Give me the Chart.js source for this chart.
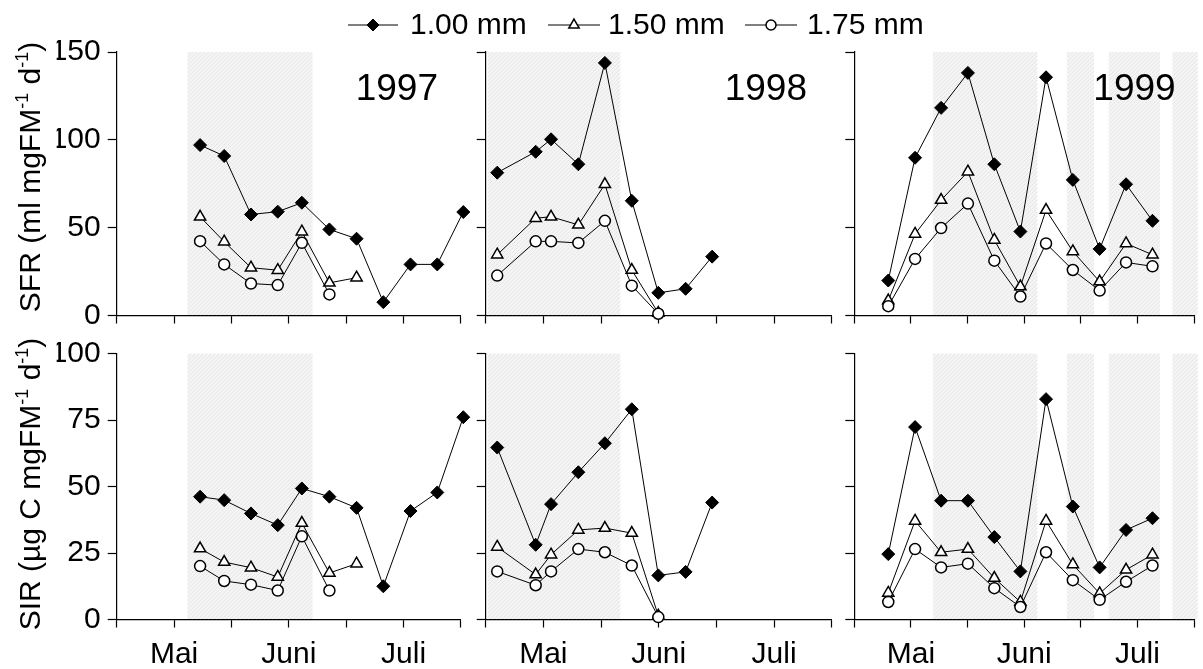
<!DOCTYPE html>
<html lang="de">
<head>
<meta charset="UTF-8" />
<title>SFR und SIR 1997–1999</title>
<script src="https://cdn.jsdelivr.net/npm/chart.js"></script>
<style>
  body { margin: 0; background: #fff; }
  #wrap { position: relative; width: 1203px; height: 669px; overflow: hidden; }
  #wrap canvas { position: absolute; left: 0; top: 0; }
</style>
</head>
<body>
<div id="wrap">
  <canvas id="sfr1997" width="1203" height="669"></canvas>
  <canvas id="sfr1998" width="1203" height="669"></canvas>
  <canvas id="sfr1999" width="1203" height="669"></canvas>
  <canvas id="sir1997" width="1203" height="669"></canvas>
  <canvas id="sir1998" width="1203" height="669"></canvas>
  <canvas id="sir1999" width="1203" height="669"></canvas>
</div>

<script>
  const FONT = '"Liberation Sans", Arial, sans-serif';
  const W = 1203, H = 669;

  // sampling dates in days after mid-April
  const days1997 = [21.8, 28.1, 35.1, 42.1, 48.4, 55.6, 62.7, 69.7, 76.8, 83.8, 90.6];
  const days1998 = [3.0, 13.0, 17.0, 24.1, 31.0, 38.0, 44.9, 52.0, 58.9];
  const days1999 = [9.0, 16.1, 23.0, 30.1, 37.1, 44.0, 50.8, 57.9, 65.0, 72.0, 79.0];

  // month names sit on the 1st of each month
  const monthLabels = { 15: 'Mai', 45: 'Juni', 75: 'Juli' };

  // SFR (ml mgFM-1 d-1) per mesh size
  const sfr1997_100 = [97.0, 90.8, 57.5, 59.1, 64.2, 49.0, 43.7, 7.6, 29.1, 29.1, 58.9];
  const sfr1997_150 = [56.2, 42.0, 27.2, 25.8, 47.7, 18.6, 21.5];
  const sfr1997_175 = [42.3, 29.1, 18.2, 17.3, 41.4, 12.0];

  const sfr1998_100 = [81.3, 93.2, 100.3, 86.1, 143.8, 65.3, 12.9, 15.2, 33.5];
  const sfr1998_150 = [34.6, 55.4, 56.2, 51.6, 74.7, 25.9, 1.4];
  const sfr1998_175 = [22.7, 42.2, 42.2, 41.3, 53.9, 17.0, 1.0];

  const sfr1999_100 = [19.9, 89.8, 118.2, 138.1, 86.1, 47.8, 135.6, 77.2, 37.9, 74.7, 53.9];
  const sfr1999_150 = [8.5, 46.4, 65.7, 81.9, 43.0, 16.5, 60.0, 36.5, 19.3, 41.0, 34.6];
  const sfr1999_175 = [5.3, 32.2, 49.8, 63.7, 31.2, 10.8, 41.0, 25.9, 14.2, 30.2, 28.0];

  // SIR (µg C mgFM-1 d-1) per mesh size
  const sir1997_100 = [46.2, 44.9, 39.9, 35.5, 49.3, 46.2, 42.0, 12.5, 40.8, 47.8, 76.1];
  const sir1997_150 = [26.7, 21.6, 19.5, 16.0, 36.3, 17.5, 21.0];
  const sir1997_175 = [20.1, 14.5, 13.1, 10.9, 31.3, 10.9];

  const sir1998_100 = [64.7, 28.1, 43.4, 55.4, 66.3, 79.1, 16.6, 17.9, 44.0];
  const sir1998_150 = [27.3, 16.9, 24.4, 33.7, 34.4, 32.5, 1.4];
  const sir1998_175 = [18.1, 12.9, 18.1, 26.5, 25.3, 20.3, 0.9];

  const sir1999_100 = [24.6, 72.4, 44.7, 44.7, 31.0, 18.1, 82.9, 42.5, 19.6, 33.7, 38.1];
  const sir1999_150 = [10.0, 37.1, 25.3, 26.5, 15.6, 6.6, 37.1, 20.7, 9.8, 18.7, 24.4];
  const sir1999_175 = [6.6, 26.5, 19.6, 21.0, 11.8, 4.7, 25.3, 14.8, 7.4, 14.2, 20.3];

  // shaded periods (days)
  const shade1997 = [[18.5, 51.2]];
  const shade1998 = [[0.5, 35.0]];
  const shade1999 = [[20.8, 48.5], [56.3, 63.5], [67.4, 81.0], [84.3, 91.0]];

  // plot boxes in page pixels
  const cols = [[116.7, 461], [485.7, 831.7], [854.3, 1200]];
  const rows = [[52, 315.5], [353.7, 619.5]];

  // fine dotted grey fill for the shaded periods
  function makeShadePattern() {
    const c = document.createElement('canvas');
    c.width = 4; c.height = 4;
    const g = c.getContext('2d');
    g.fillStyle = '#f4f4f4';
    g.fillRect(0, 0, 4, 4);
    g.fillStyle = '#e4e4e4';
    [[0, 0], [2, 2]].forEach(([x, y]) => g.fillRect(x, y, 1, 1));
    g.fillStyle = '#ebebeb';
    [[1, 3], [3, 1]].forEach(([x, y]) => g.fillRect(x, y, 1, 1));
    return g.createPattern(c, 'repeat');
  }
  const shadeFill = makeShadePattern();

  function drawRotatedTitle(ctx, parts, cx, cy, size) {
    ctx.save();
    ctx.translate(cx, cy);
    ctx.rotate(-Math.PI / 2);
    ctx.fillStyle = '#000';
    ctx.textBaseline = 'alphabetic';
    const supSize = Math.round(size * 0.6);
    let total = 0;
    parts.forEach(([t, sup]) => {
      ctx.font = (sup ? supSize : size) + 'px ' + FONT;
      total += ctx.measureText(t).width;
    });
    let x = -total / 2;
    parts.forEach(([t, sup]) => {
      ctx.font = (sup ? supSize : size) + 'px ' + FONT;
      ctx.fillText(t, x, sup ? -size * 0.4 : 0);
      x += ctx.measureText(t).width;
    });
    ctx.restore();
  }

  const markers = [
    { label: '1.00 mm', pointStyle: 'rectRot', radius: 6.5, fill: '#000', border: 1, order: 2 },
    { label: '1.50 mm', pointStyle: 'triangle', radius: 6.5, fill: '#fff', border: 1.5, order: 1 },
    { label: '1.75 mm', pointStyle: 'circle', radius: 5.5, fill: '#fff', border: 1.5, order: 0 }
  ];

  function drawLegend(ctx) {
    const items = [
      { x1: 348, x2: 398, tx: 410 },
      { x1: 548, x2: 600, tx: 608 },
      { x1: 745, x2: 797, tx: 807 }
    ];
    const y = 25;
    ctx.save();
    items.forEach((it, i) => {
      const m = markers[i];
      ctx.strokeStyle = '#000';
      ctx.lineWidth = 1;
      ctx.beginPath();
      ctx.moveTo(it.x1, y);
      ctx.lineTo(it.x2, y);
      ctx.stroke();
      ctx.fillStyle = m.fill;
      ctx.lineWidth = m.border;
      Chart.helpers.drawPoint(ctx, {
        pointStyle: m.pointStyle, radius: m.radius - 0.5, rotation: 0, borderWidth: m.border
      }, (it.x1 + it.x2) / 2, y);
      ctx.fillStyle = '#000';
      ctx.font = '30px ' + FONT;
      ctx.textBaseline = 'middle';
      ctx.textAlign = 'left';
      ctx.fillText(m.label, it.tx, y + 1);
    });
    ctx.restore();
  }

  const decor = {
    id: 'decor',
    beforeDraw(chart, args, opts) {
      const { ctx, chartArea, scales } = chart;
      ctx.save();
      ctx.fillStyle = shadeFill;
      (opts.shade || []).forEach(([a, b]) => {
        const x1 = scales.x.getPixelForValue(a);
        const x2 = scales.x.getPixelForValue(b);
        ctx.fillRect(x1, chartArea.top, x2 - x1, chartArea.bottom - chartArea.top);
      });
      ctx.restore();
    },
    afterDraw(chart, args, opts) {
      const { ctx, chartArea } = chart;
      if (opts.year) {
        ctx.save();
        ctx.fillStyle = '#000';
        ctx.font = '37px ' + FONT;
        ctx.textBaseline = 'alphabetic';
        ctx.textAlign = 'left';
        ctx.fillText(opts.year, chartArea.left + 239, 100);
        ctx.restore();
      }
      if (opts.title) {
        drawRotatedTitle(ctx, opts.title, 40, opts.titleY, 30);
      }
      if (opts.legend) drawLegend(ctx);
    }
  };

  function series(days, values, i) {
    const m = markers[i];
    return {
      label: m.label,
      data: values.map((v, k) => ({ x: days[k], y: v })),
      borderColor: '#000',
      borderWidth: 1,
      pointStyle: m.pointStyle,
      pointRadius: m.radius,
      pointBackgroundColor: m.fill,
      pointBorderColor: '#000',
      pointBorderWidth: m.border,
      tension: 0,
      clip: false,
      order: m.order
    };
  }

  function panel(id, col, row, days, sets, cfg) {
    const [left, right] = cols[col];
    const [top, bottom] = rows[row];
    const YW = 60;
    const XH = row === 1 ? 46 : 20;
    const yMax = row === 0 ? 150 : 100;
    const yStep = row === 0 ? 50 : 25;
    const tickFont = { family: FONT, size: 30 };

    return new Chart(document.getElementById(id), {
      type: 'line',
      data: { datasets: sets.map((vals, i) => series(days, vals, i)) },
      options: {
        responsive: false,
        animation: false,
        events: [],
        layout: {
          autoPadding: false,
          padding: { left: left - YW, top: top, right: W - right, bottom: H - bottom - XH }
        },
        plugins: {
          legend: { display: false },
          tooltip: { enabled: false },
          decor: cfg
        },
        scales: {
          x: {
            type: 'linear',
            min: 0,
            max: 90,
            afterFit: s => { s.height = XH; },
            ticks: {
              stepSize: 15,
              autoSkip: false,
              maxRotation: 0,
              minRotation: 0,
              padding: 9,
              color: '#000',
              font: tickFont,
              callback: v => (row === 1 ? (monthLabels[v] || '') : '')
            },
            grid: { drawOnChartArea: false, tickLength: 8, tickColor: '#000', tickWidth: 1.2 },
            border: { color: '#000', width: 1.2 }
          },
          y: {
            min: 0,
            max: yMax,
            afterFit: s => { s.width = YW; },
            ticks: {
              stepSize: yStep,
              padding: 7,
              color: '#000',
              font: tickFont,
              callback: v => (col === 0 ? String(v) : '')
            },
            grid: { drawOnChartArea: false, tickLength: 9, tickColor: '#000', tickWidth: 1.2 },
            border: { color: '#000', width: 1.2 }
          }
        }
      },
      plugins: [decor]
    });
  }

  const sfrTitle = [['SFR (ml mgFM', false], ['-1', true], [' d', false], ['-1', true], [')', false]];
  const sirTitle = [['SIR (µg C mgFM', false], ['-1', true], [' d', false], ['-1', true], [')', false]];

  panel('sfr1997', 0, 0, days1997, [sfr1997_100, sfr1997_150, sfr1997_175],
    { shade: shade1997, year: '1997', title: sfrTitle, titleY: 177, legend: true });
  panel('sfr1998', 1, 0, days1998, [sfr1998_100, sfr1998_150, sfr1998_175],
    { shade: shade1998, year: '1998' });
  panel('sfr1999', 2, 0, days1999, [sfr1999_100, sfr1999_150, sfr1999_175],
    { shade: shade1999, year: '1999' });

  panel('sir1997', 0, 1, days1997, [sir1997_100, sir1997_150, sir1997_175],
    { shade: shade1997, title: sirTitle, titleY: 484 });
  panel('sir1998', 1, 1, days1998, [sir1998_100, sir1998_150, sir1998_175],
    { shade: shade1998 });
  panel('sir1999', 2, 1, days1999, [sir1999_100, sir1999_150, sir1999_175],
    { shade: shade1999 });
</script>
</body>
</html>
